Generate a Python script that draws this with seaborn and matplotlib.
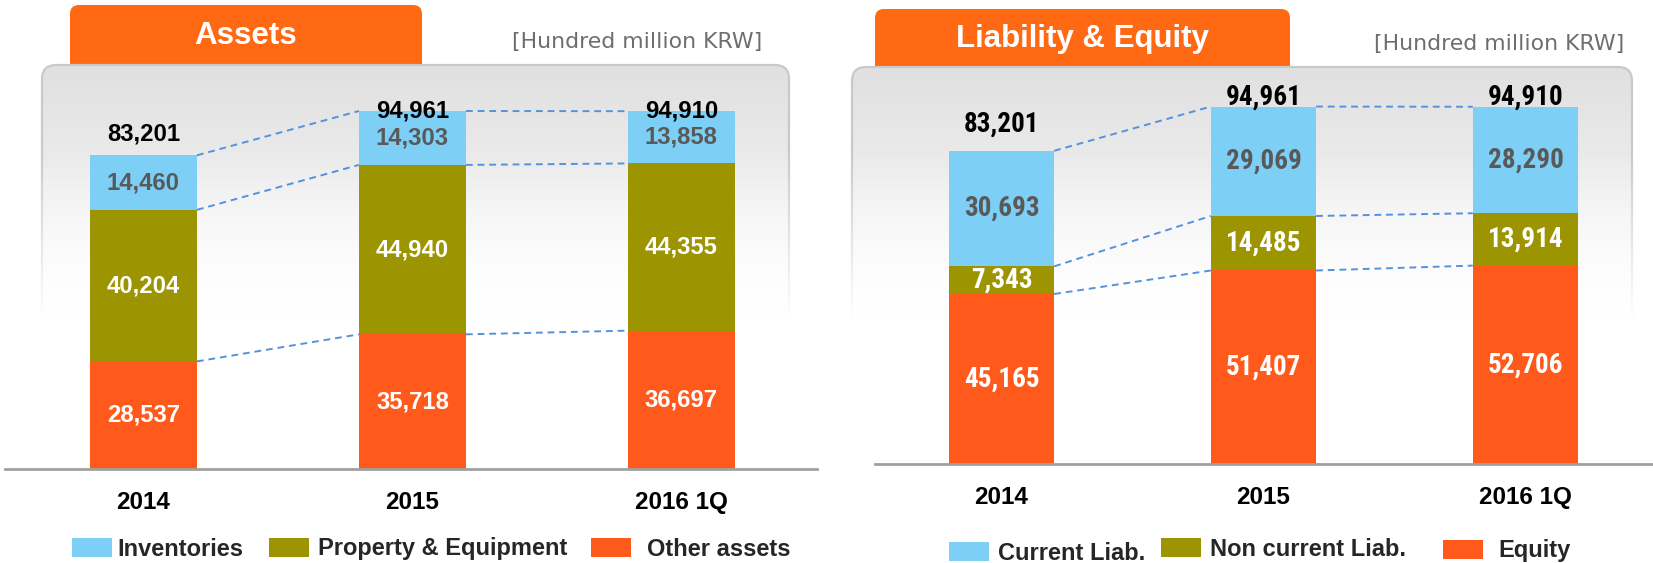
import numpy as np
import matplotlib
matplotlib.use("Agg")
import matplotlib.pyplot as plt
from matplotlib import font_manager
from matplotlib.patches import FancyBboxPatch, Patch
from matplotlib.colors import LinearSegmentedColormap
import seaborn as sns

# Data (hundred million KRW)
periods = ["2014", "2015", "2016 1Q"]

inventories = [14460, 14303, 13858]
property_equipment = [40204, 44940, 44355]
other_assets = [28537, 35718, 36697]

current_liab = [30693, 29069, 28290]
noncurrent_liab = [7343, 14485, 13914]
equity = [45165, 51407, 52706]

asset_labels = ["Inventories", "Property & Equipment", "Other assets"]
liab_labels = ["Current Liab.", "Non current Liab.", "Equity"]

C_CYAN = "#7DCFF5"
C_OLIVE = "#9C9400"
C_ORANGE = "#FF5A1B"
C_TAB = "#FF6914"
C_DASH = "#5592DC"

sns.set_theme(style="white")

names = {f.name for f in font_manager.fontManager.ttflist}
NARROW = "Liberation Sans"
for cand in ["Roboto Condensed", "Liberation Sans Narrow", "Arial Narrow",
             "PT Sans Narrow", "Archivo Narrow"]:
    if cand in names:
        NARROW = cand
        break
SANS = ["Liberation Sans", "DejaVu Sans"]
NFAM = [NARROW, "DejaVu Sans"]
plt.rcParams["font.family"] = SANS

W, H = 1653, 563
fig = plt.figure(figsize=(W / 100, H / 100), dpi=100)
fig.patch.set_facecolor("white")

# background layer in pixel coordinates
bg = fig.add_axes([0, 0, 1, 1], zorder=0)
bg.set_axis_off()

grad = np.linspace(0, 1, 256).reshape(-1, 1)
cmap = LinearSegmentedColormap.from_list("panel", [(0, "#e0e0e0"), (0.25, "#ececec"),
                                                   (0.62, "#ffffff"), (1, "#ffffff")])
ys = np.linspace(60, 490, 256)
fade = np.ones((256, 1, 4))
fade[:, 0, 3] = np.clip((ys - 150) / 170, 0, 1)


def draw_frame(tab_x0, tab_x1, tab_y0, panel_x0, panel_x1, panel_y0, title, unit_x, unit_y):
    tab = FancyBboxPatch((tab_x0, tab_y0), tab_x1 - tab_x0, panel_y0 + 10 - tab_y0,
                         boxstyle="round,pad=0,rounding_size=9",
                         facecolor=C_TAB, edgecolor="none", zorder=1)
    bg.add_patch(tab)
    panel = FancyBboxPatch((panel_x0, panel_y0), panel_x1 - panel_x0, 420,
                           boxstyle="round,pad=0,rounding_size=14",
                           facecolor="none", edgecolor="#c9c9c9", lw=1.6, zorder=3)
    bg.add_patch(panel)
    im = bg.imshow(grad, extent=[panel_x0, panel_x1, panel_y0 + 420, panel_y0], cmap=cmap,
                   aspect="auto", zorder=2)
    im.set_clip_path(panel)
    bg.imshow(fade, extent=[panel_x0 - 4, panel_x1 + 4, 490, 60], aspect="auto", zorder=3.5)
    bg.text((tab_x0 + tab_x1) / 2, (tab_y0 + panel_y0) / 2 + 1, title, ha="center", va="center",
            color="white", fontsize=22.5, fontweight="bold", zorder=4)
    bg.text(unit_x, unit_y, "[Hundred million KRW]", ha="right", va="center",
            color="#6e6e6e", fontsize=15.8, family="DejaVu Sans", zorder=4)


draw_frame(70, 422, 5, 42, 789, 65, "Assets", 762, 42)
draw_frame(875, 1290, 9, 852, 1632, 67, "Liability & Equity", 1624, 44)
bg.set_xlim(0, W)
bg.set_ylim(H, 0)


def draw_stack(ax, layers, colors, label_colors, width, total_offsets, num_font):
    tops = []
    cum = np.zeros(len(periods))
    for vals in layers:
        cum = cum + np.array(vals)
        tops.append(cum.copy())
    # overlay cumulative bars from highest to lowest
    for top, col in reversed(list(zip(tops, colors))):
        sns.barplot(x=periods, y=top, color=col, width=width, saturation=1,
                    errorbar=None, edgecolor="none", ax=ax, zorder=2)
    # dashed connectors
    for top in tops:
        for i in range(len(periods) - 1):
            ax.plot([i + width / 2, i + 1 - width / 2], [top[i], top[i + 1]],
                    ls=(0, (3.5, 2.5)), color=C_DASH, lw=1.4, zorder=3)
    # segment labels
    bottom = np.zeros(len(periods))
    for vals, lc in zip(layers, label_colors):
        for i, v in enumerate(vals):
            ax.text(i, bottom[i] + v / 2, f"{v:,}", ha="center", va="center",
                    color=lc, fontweight="bold", zorder=4, **num_font)
        bottom = bottom + np.array(vals)
    for i, t in enumerate(tops[-1]):
        ax.annotate(f"{int(t):,}", (i, t), xytext=(0, total_offsets[i]),
                    textcoords="offset points", ha="center", va="center",
                    color="black", fontweight="bold", zorder=5, **num_font)


def style_axis(ax, xlim, ylim):
    ax.set_facecolor("none")
    ax.set_xlim(*xlim)
    ax.set_ylim(0, ylim)
    ax.set_yticks([])
    ax.set_xlabel("")
    ax.set_ylabel("")
    for s in ["top", "right", "left"]:
        ax.spines[s].set_visible(False)
    ax.spines["bottom"].set_color("#a0a0a0")
    ax.spines["bottom"].set_linewidth(2)
    ax.tick_params(axis="x", length=0, pad=16)
    for lab in ax.get_xticklabels():
        lab.set_fontweight("bold")
        lab.set_fontsize(17.5)
        lab.set_color("black")


# Left: Assets
ax1 = fig.add_axes([5 / W, 1 - 469 / H, 812 / W, 404 / H], zorder=5)
draw_stack(ax1, [other_assets, property_equipment, inventories],
           [C_ORANGE, C_OLIVE, C_CYAN], ["white", "white", "#595959"],
           0.398, [15, 0, 0], {"family": SANS, "fontsize": 17.2})
style_axis(ax1, (-0.5145, 2.504), 107160)

# Right: Liability & Equity
ax2 = fig.add_axes([875 / W, 1 - 464 / H, 778 / W, 399 / H], zorder=5)
draw_stack(ax2, [equity, noncurrent_liab, current_liab],
           [C_ORANGE, C_OLIVE, C_CYAN], ["white", "white", "#595959"],
           0.402, [19, 7, 7], {"family": NFAM, "fontsize": 19.5})
style_axis(ax2, (-0.483, 2.487), 106000)

# legends: one entry per item, placed where the reference puts them
legend_font = {"family": SANS, "weight": "bold", "size": 17}
swatches = [C_CYAN, C_OLIVE, C_ORANGE]
items = list(zip(asset_labels, swatches, [72, 269, 591], [549, 549, 549], [0.21, 0.38, 0.68])) + \
        list(zip(liab_labels, swatches, [949, 1161, 1443], [553, 549, 551], [0.38, 0.38, 0.64]))
for label, col, px, py, pad in items:
    fig.legend([Patch(facecolor=col, edgecolor="none")], [label], loc="center left",
               bbox_to_anchor=(px / W, 1 - py / H), frameon=False, prop=legend_font,
               handlelength=1.7, handleheight=0.85, handletextpad=pad,
               borderpad=0, borderaxespad=0)

fig.savefig("out.png", dpi=100, facecolor="white")
